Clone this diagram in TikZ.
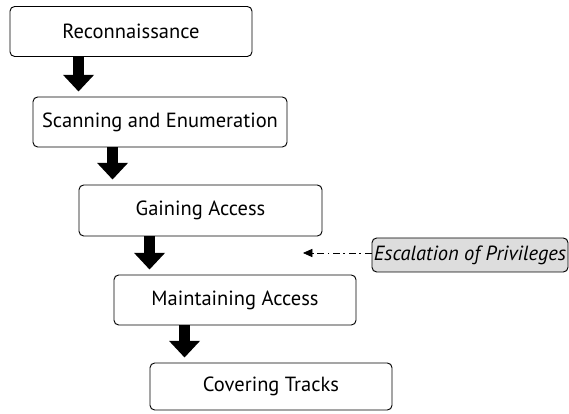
\documentclass[tikz,border=0pt]{standalone}
\usepackage{fontspec}
\setmainfont{PT Sans}
\usepackage{tikz}
\usetikzlibrary{arrows.meta,positioning}
\definecolor{escgray}{RGB}{221,221,221}
\tikzstyle{phase} = [draw, line width=0.8pt, rounded corners=4pt, minimum width=7.26cm, minimum height=1.5cm, font=\fontsize{17.5}{20}\selectfont]
\tikzstyle{bigarrow} = [line width=0.33cm, -{Triangle[width=0.9cm,length=0.5cm]}, shorten >=0.15cm]
\tikzstyle{esc} = [draw, line width=0.8pt, rounded corners=4pt, fill=escgray, minimum width=5.88cm, minimum height=1.02cm, inner sep=1pt, font=\fontsize{17.5}{20}\selectfont\itshape]

\begin{document}
\begin{tikzpicture}
                \useasboundingbox (0,0) rectangle (17.07,12.39);
                \node[phase] (rec) at (3.93,11.445) {Reconnaissance};
                \node[phase, minimum width=7.62cm] (scan) at (4.8,8.73) {Scanning and Enumeration};
                \node[phase, minimum width=7.29cm, minimum height=1.53cm] (gain) at (6.015,6.075) {Gaining Access};
                \node[phase] (main) at (7.05,3.39) {Maintaining Access};
                \node[phase, minimum height=1.41cm] (cover) at (8.13,0.795) {Covering Tracks};
                \foreach \a/\b/\d in {rec/scan/2.07, scan/gain/2.4, gain/main/2.13, main/cover/2.13}{
                    \draw[bigarrow] ([xshift=\d cm]\a.south west) coordinate (t\a) -- (t\a |- \b.north);
                }
                \node[esc] (priv) at (14.1,4.74) {Escalation of Privileges};
                \coordinate (privend) at (9.09,4.8);
                \draw[line width=0.6pt, dash pattern=on 6pt off 3pt on 1.5pt off 3pt, -{Triangle[width=7pt,length=8pt]}] (priv.west |- privend) -- (privend);
            \end{tikzpicture}
\end{document}
